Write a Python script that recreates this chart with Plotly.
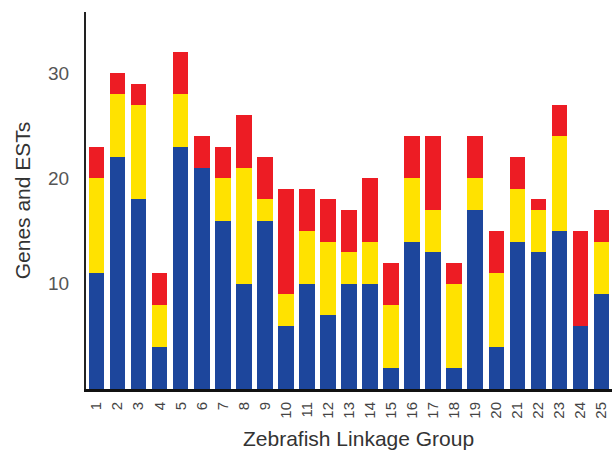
import plotly.graph_objects as go

groups = [str(i) for i in range(1, 26)]
blue = [11, 22, 18, 4, 23, 21, 16, 10, 16, 6, 10, 7, 10, 10, 2, 14, 13, 2, 17, 4, 14, 13, 15, 6, 9]
yellow = [9, 6, 9, 4, 5, 0, 4, 11, 2, 3, 5, 7, 3, 4, 6, 6, 4, 8, 3, 7, 5, 4, 9, 0, 5]
red = [3, 2, 2, 3, 4, 3, 3, 5, 4, 10, 4, 4, 4, 6, 4, 4, 7, 2, 4, 4, 3, 1, 3, 9, 3]
y_ticks = [10, 20, 30]

fig = go.Figure()
for vals, col in [(blue, "#1d469c"), (yellow, "#ffe200"), (red, "#ed1c24")]:
    fig.add_trace(go.Bar(x=groups, y=vals, marker=dict(color=col, line=dict(width=0)),
                         width=0.74, showlegend=False))

fig.update_layout(
    barmode="stack",
    width=616, height=451,
    margin=dict(l=86, r=4, t=12, b=62),
    paper_bgcolor="white", plot_bgcolor="white",
    font=dict(family="Liberation Sans, Arial, sans-serif", color="#333333"),
    xaxis=dict(
        type="category", range=[-0.5, 24.5],
        showline=True, linecolor="#111111", linewidth=3,
        ticks="", tickangle=-90, tickfont=dict(size=15, color="#444444"),
        ticklabelstandoff=4,
        showgrid=False,
    ),
    yaxis=dict(
        range=[0, 35.8], tickvals=y_ticks, ticktext=[str(v) for v in y_ticks],
        showline=True, linecolor="#222222", linewidth=2,
        ticks="", tickfont=dict(size=19, color="#555555"),
        ticklabelstandoff=11,
        title=dict(text="Genes and ESTs", font=dict(size=21, color="#333333"), standoff=12),
        showgrid=False, zeroline=False,
    ),
    annotations=[dict(
        text="Zebrafish Linkage Group", xref="paper", yref="paper",
        x=0.519, y=-0.132, xanchor="center", yanchor="middle", showarrow=False,
        font=dict(size=21, color="#333333"),
    )],
)

fig.write_html("out.html", config={"displayModeBar": False},
               post_script="document.body.style.margin='0';document.body.style.overflow='hidden';")
